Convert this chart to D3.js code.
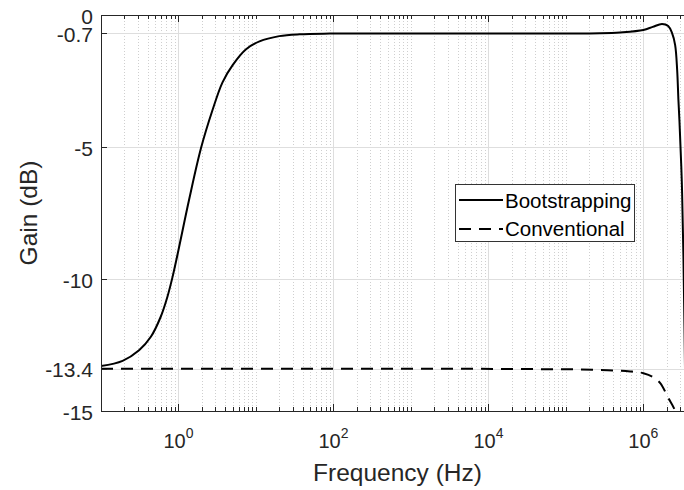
<!DOCTYPE html>
<html><head><meta charset="utf-8">
<script src="https://cdn.jsdelivr.net/npm/d3@7"></script>
<style>body{margin:0;background:#fff}svg{display:block}text{font-family:"Liberation Sans",Arial,Helvetica,sans-serif;fill:#262626}</style>
</head><body>
<script>
// ---- data ----
const bootFreq = [0.1,0.19,0.31,0.44,0.59,0.72,0.84,1.0,1.37,1.95,2.75,3.7,5.0,7.45,11.1,20,36.5,90,1e3,1e4,1e5,2.75e5,5e5,1e6,1.32e6,1.74e6,2.09e6,2.34e6,2.57e6,2.73e6,2.83e6,2.92e6,3.13e6,3.29e6,3.5e6];
const bootGain = [-13.3,-13.1,-12.7,-12.19,-11.43,-10.67,-9.91,-8.9,-7.0,-5.05,-3.6,-2.55,-1.9,-1.3,-1.0,-0.8,-0.73,-0.705,-0.7,-0.7,-0.7,-0.69,-0.66,-0.57,-0.45,-0.34,-0.42,-0.68,-1.14,-2.1,-3.2,-4.0,-6.3,-9.2,-15];
const convFreq = [0.1,1e3,1e5,2.75e5,6.76e5,1e6,1.66e6,2.09e6,2.57e6,3e6];
const convGain = [-13.4,-13.4,-13.42,-13.45,-13.5,-13.57,-13.95,-14.5,-15.0,-15.6];
const yTicks = [-15,-13.4,-10,-5,-0.7,0];
const yTickLabels = ["-15","-13.4","-10","-5","-0.7","0"];
const xMajor = [1,1e2,1e4,1e6];
const xMajorExp = ["0","2","4","6"];
const seriesNames = ["Bootstrapping","Conventional"];
const xLabel = "Frequency (Hz)", yLabel = "Gain (dB)";

const W=684,H=490, L=101, T=15, R=694, B=411;
const svg=d3.select("body").append("svg").attr("width",W).attr("height",H);
const x=d3.scaleLog().domain([0.1,4.5e6]).range([L,R]);
const y=d3.scaleLinear().domain([-15,0]).range([B,T]);

// minor tick values
const minor=[];
for(let k=-1;k<=6;k++) for(let m=1;m<=9;m++){const v=m*Math.pow(10,k); if(v>0.1*1.0001 && v<=4.5e6 && !xMajor.some(t=>Math.abs(t-v)/v<1e-6)) minor.push(v);}

const g=svg.append("g");
g.selectAll("line.mg").data(minor).join("line").attr("x1",d=>Math.round(x(d))+0.5).attr("x2",d=>Math.round(x(d))+0.5)
 .attr("y1",T).attr("y2",B).attr("stroke","#cfcfcf").attr("stroke-width",1).attr("stroke-dasharray","1,2");
g.selectAll("line.Mg").data(xMajor).join("line").attr("x1",d=>Math.round(x(d))+0.5).attr("x2",d=>Math.round(x(d))+0.5)
 .attr("y1",T).attr("y2",B).attr("stroke","#dedede").attr("stroke-width",1);
g.selectAll("line.yg").data(yTicks).join("line").attr("x1",L).attr("x2",R)
 .attr("y1",d=>Math.round(y(d))+0.5).attr("y2",d=>Math.round(y(d))+0.5).attr("stroke","#dedede").attr("stroke-width",1);

svg.append("clipPath").attr("id","clip").append("rect").attr("x",L).attr("y",T).attr("width",R-L).attr("height",B-T);
const lineBoot=d3.line().x(d=>x(d[0])).y(d=>y(d[1])).curve(d3.curveCatmullRom.alpha(0.5));
const lineConv=d3.line().x(d=>x(d[0])).y(d=>y(d[1])).curve(d3.curveMonotoneX);
const boot=bootFreq.map((f,i)=>[f,bootGain[i]]);
const conv=convFreq.map((f,i)=>[f,convGain[i]]);
const lines=svg.append("g").attr("clip-path","url(#clip)");
lines.append("path").attr("d",lineBoot(boot)).attr("fill","none").attr("stroke","#000").attr("stroke-width",2);
lines.append("path").attr("d",lineConv(conv)).attr("fill","none").attr("stroke","#000").attr("stroke-width",2).attr("stroke-dasharray","12,8");

const ax=svg.append("g").attr("stroke","#262626").attr("stroke-width",1);
ax.append("line").attr("x1",L+0.5).attr("x2",L+0.5).attr("y1",T).attr("y2",B+0.5);
ax.append("line").attr("x1",L).attr("x2",R).attr("y1",B+0.5).attr("y2",B+0.5);
ax.append("line").attr("x1",L).attr("x2",R).attr("y1",T+0.5).attr("y2",T+0.5);
ax.selectAll("line.mt").data(minor).join("line").attr("x1",d=>Math.round(x(d))+0.5).attr("x2",d=>Math.round(x(d))+0.5).attr("y1",B).attr("y2",B-4);
ax.selectAll("line.mt2").data(minor).join("line").attr("x1",d=>Math.round(x(d))+0.5).attr("x2",d=>Math.round(x(d))+0.5).attr("y1",T).attr("y2",T+4);
ax.selectAll("line.Mt").data(xMajor).join("line").attr("x1",d=>Math.round(x(d))+0.5).attr("x2",d=>Math.round(x(d))+0.5).attr("y1",B).attr("y2",B-7);
ax.selectAll("line.Mt2").data(xMajor).join("line").attr("x1",d=>Math.round(x(d))+0.5).attr("x2",d=>Math.round(x(d))+0.5).attr("y1",T).attr("y2",T+7);
ax.selectAll("line.yt").data(yTicks).join("line").attr("x1",L).attr("x2",L+6).attr("y1",d=>Math.round(y(d))+0.5).attr("y2",d=>Math.round(y(d))+0.5);

svg.selectAll("text.yl").data(yTicks).join("text").attr("x",93).attr("y",d=>y(d)+8.5).attr("text-anchor","end")
 .attr("font-size",21).text((d,i)=>yTickLabels[i]);
const xl=svg.selectAll("text.xl").data(xMajor).join("text").attr("x",d=>x(d)).attr("y",448).attr("text-anchor","middle").attr("font-size",20);
xl.append("tspan").text("10");
xl.append("tspan").attr("dy",-10).attr("font-size",14).text((d,i)=>xMajorExp[i]);

svg.append("text").attr("x",(L+R)/2).attr("y",481).attr("text-anchor","middle").attr("font-size",24.5).text(xLabel);
svg.append("text").attr("transform",`translate(37,${(T+B)/2}) rotate(-90)`).attr("text-anchor","middle").attr("font-size",24.5).text(yLabel);

const lg=svg.append("g");
lg.append("rect").attr("x",455.5).attr("y",184.5).attr("width",179).attr("height",57).attr("fill","#fff").attr("stroke","#333").attr("stroke-width",1);
lg.append("line").attr("x1",459).attr("x2",503).attr("y1",200).attr("y2",200).attr("stroke","#000").attr("stroke-width",2);
lg.append("line").attr("x1",459).attr("x2",503).attr("y1",229).attr("y2",229).attr("stroke","#000").attr("stroke-width",2).attr("stroke-dasharray","12,8");
lg.append("text").attr("x",505).attr("y",208).attr("font-size",20.5).style("fill","#000").text(seriesNames[0]);
lg.append("text").attr("x",505).attr("y",236).attr("font-size",20.5).style("fill","#000").text(seriesNames[1]);
</script>
</body></html>
